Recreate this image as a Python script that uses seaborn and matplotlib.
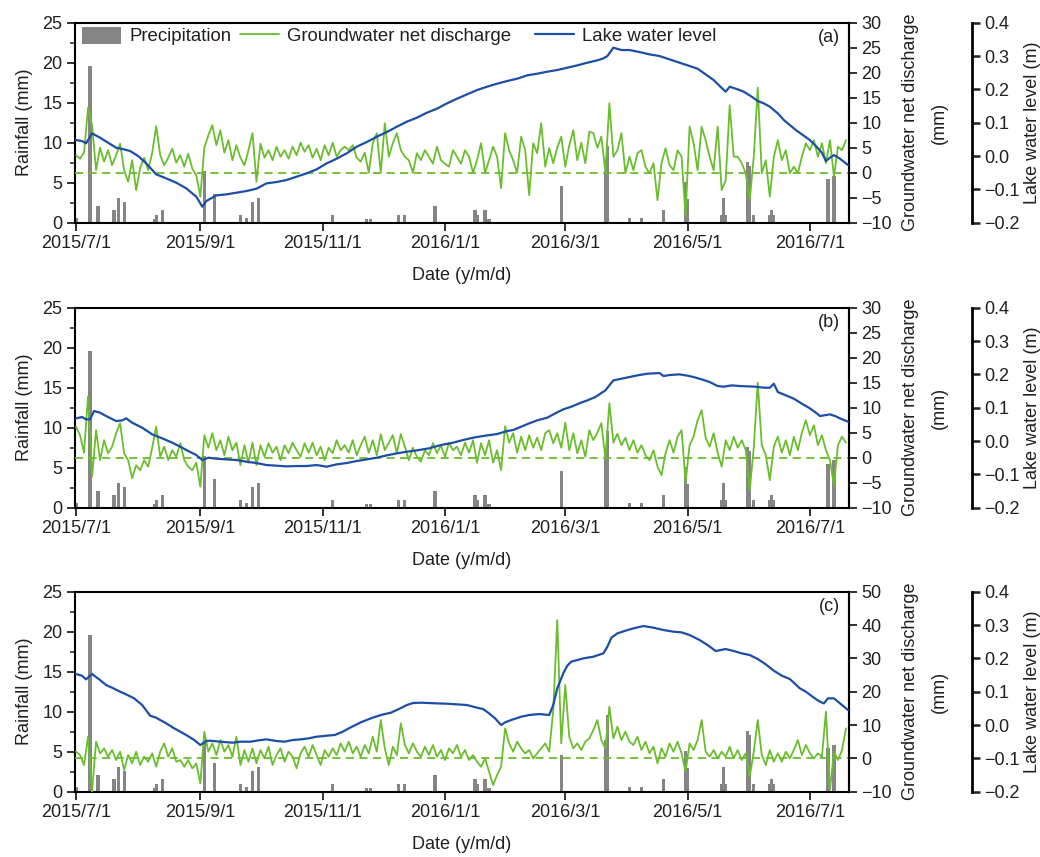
import numpy as np
import pandas as pd
import matplotlib
matplotlib.use("Agg")
import matplotlib.pyplot as plt
import matplotlib.dates as mdates
from matplotlib.ticker import MultipleLocator, AutoMinorLocator, FixedLocator, FuncFormatter
from matplotlib.patches import Patch
from matplotlib.lines import Line2D
from matplotlib.legend import Legend
import seaborn as sns

sns.set_theme(style="ticks")
plt.rcParams["font.family"] = ["Liberation Sans", "DejaVu Sans"]
TXT = "#231f20"
plt.rcParams.update({"text.color": TXT, "axes.labelcolor": TXT, "xtick.color": TXT,
                     "ytick.color": TXT, "axes.edgecolor": "black", "axes.unicode_minus": True})

GRAY = "#858585"
GREEN = "#6abd2d"
BLUE = "#1d4ea6"
FS = 13

# ---------------- data ----------------
rain_dates = ['2015-07-01', '2015-07-08', '2015-07-12', '2015-07-20', '2015-07-22', '2015-07-25',
              '2015-08-09', '2015-08-10', '2015-08-13', '2015-09-03', '2015-09-08', '2015-09-21',
              '2015-09-24', '2015-09-27', '2015-09-30', '2015-11-06', '2015-11-23', '2015-11-25',
              '2015-12-09', '2015-12-12', '2015-12-27', '2016-01-16', '2016-01-17', '2016-01-21',
              '2016-01-23', '2016-02-28', '2016-03-21', '2016-03-22', '2016-04-02', '2016-04-08',
              '2016-04-19', '2016-04-30', '2016-05-01', '2016-05-18', '2016-05-19', '2016-05-20',
              '2016-05-31', '2016-06-01', '2016-06-03', '2016-06-11', '2016-06-12', '2016-06-13',
              '2016-07-10', '2016-07-13']
rain_mm = [0.6, 19.6, 2.1, 1.6, 3.1, 2.6, 0.5, 1.0, 1.6, 6.5, 3.6, 1.0, 0.6, 2.6, 3.1, 1.0, 0.5, 0.5,
           1.0, 1.0, 2.1, 1.6, 1.0, 1.6, 0.5, 4.6, 6.5, 9.6, 0.6, 0.6, 1.6, 5.1, 3.0, 1.0, 3.1, 1.0,
           7.6, 7.1, 1.0, 1.0, 1.6, 1.0, 5.5, 5.9]

# groundwater net discharge (mm), one value every 2 days from 2015-07-01
gw_a = [3.5, 2.8, 4.0, 13.0, 9.5, 0.5, 5.0, 2.2, 4.5, 1.5,
        3.5, 5.8, 0.5, -1.8, 2.5, -3.5, 1.0, 3.0, 0.5, 4.0,
        9.3, 3.5, 1.5, 3.0, 4.8, 2.0, 3.5, 1.2, 3.8, 0.8,
        -0.5, -4.8, 5.0, 7.5, 9.5, 5.5, 8.5, 4.0, 6.5, 2.5,
        5.5, 3.0, 1.5, 4.5, 7.9, -1.8, 5.8, 3.0, 4.5, 2.5,
        5.2, 3.2, 4.5, 2.8, 5.2, 3.5, 6.0, 4.2, 5.5, 3.0,
        4.8, 2.5, 5.5, 3.5, 6.0, 3.2, 4.5, 5.2, 4.5, 5.5,
        3.0, 2.2, 4.0, 0.0, 5.9, 7.9, 0.0, 9.9, 3.2, 5.9,
        7.9, 4.5, 3.2, 2.5, 0.0, 3.9, 2.5, 4.5, 3.2, 1.8,
        5.2, 2.5, 1.8, 1.2, 4.5, 3.2, 1.8, 4.5, 3.2, 0.0,
        2.5, 5.9, 0.0, 2.5, 5.2, 3.2, -3.1, 7.9, 4.5, 2.5,
        0.0, 7.2, 4.5, -4.5, 5.9, 3.9, 9.9, 1.2, 4.9, 1.9,
        5.0, 7.2, 1.2, 5.5, 8.5, 2.5, 6.0, 1.9, 8.2, 7.9,
        5.0, 7.2, 0.2, 13.9, 3.2, 4.5, 7.9, -0.1, 3.2, 0.5,
        3.9, 4.5, 1.2, -0.1, 1.9, -5.5, 1.9, 4.9, 1.5, 0.5,
        4.5, 3.2, -8.8, 9.2, 5.9, 0.5, 9.2, 6.5, 3.2, 0.5,
        9.2, -3.5, -1.5, 13.5, 3.2, 3.2, 1.9, -0.1, -5.5, 3.2,
        17.0, -0.1, 2.5, -4.8, 3.2, 6.5, 2.5, 4.5, -0.1, 1.2,
        -0.1, 3.2, 5.9, 4.5, 6.5, 3.2, 5.9, 1.9, 6.5, -0.8,
        5.2, 4.5, 6.5]
gw_b = [6.2, 4.5, 1.0, 12.3, -3.8, 5.5, -0.5, 3.5, 0.9, 2.2,
        4.9, 6.9, 0.9, -0.5, -4.1, -1.5, -2.5, -0.5, -1.8, 2.0,
        6.2, 0.2, 2.2, -0.5, 1.5, 0.2, 2.9, -0.5, -1.8, -2.5,
        -1.0, -5.8, 4.5, 2.0, 4.9, 1.5, 3.5, 0.5, 4.2, 1.5,
        3.0, -1.5, 2.5, -1.0, 3.0, -1.5, 2.5, 0.2, 2.9, 1.0,
        2.2, -0.5, 2.5, 0.9, 3.0, 1.5, 0.2, 2.9, 1.0, 3.0,
        0.5, 2.2, -0.5, 2.0, 0.9, 3.5, 1.5, 2.5, 1.0, 3.5,
        0.5, 2.5, 4.2, 1.0, 3.5, 0.5, 4.7, 1.5, 3.0, 4.5,
        0.9, 4.7, 2.2, -0.5, 2.0, 0.2, -0.8, 1.5, 0.5, 2.9,
        0.9, 2.5, 0.2, 3.0, 1.5, 2.2, 0.5, 3.0, 1.0, 3.5,
        -1.0, 2.9, 0.5, 3.5, -1.0, 1.5, -2.5, 6.3, 3.0, 4.9,
        1.0, 4.2, 1.5, 4.5, 2.0, 4.0, 1.5, 4.9, 5.5, 2.9,
        4.9, 2.0, 7.0, 1.5, 4.9, 0.9, 3.5, 0.2, 5.5, 3.5,
        5.0, 6.9, -0.1, 10.9, 3.0, 4.8, 2.5, 4.0, 1.5, 3.5,
        1.0, 2.5, 0.5, -0.5, 1.5, -1.8, -3.5, 0.9, 3.5, 1.0,
        4.2, 5.5, -4.8, 2.5, 4.2, 7.5, 9.5, 4.0, 2.2, 4.9,
        1.0, -1.8, 3.5, 1.5, 4.2, 2.0, 3.5, 1.5, -6.5, 2.0,
        15.0, 2.5, 0.5, -4.5, 2.2, 4.2, 1.0, 3.5, 0.5, 4.2,
        1.5, 5.0, 7.5, 4.5, 6.5, 2.5, 4.5, 1.5, -0.5, -5.5,
        2.5, 4.2, 3.0]
gw_c = [2.0, 1.0, -2.0, 6.5, -10.0, 5.0, 1.5, 3.0, 0.5, 2.5,
        -0.5, 2.0, -3.5, 1.0, -1.5, 2.0, -2.0, 0.5, -1.0, 1.5,
        -2.5, 2.0, 4.5, 0.5, 3.0, -1.0, -0.5, -2.5, -0.5, -3.0,
        -1.5, -7.5, 8.0, 2.0, 4.5, 1.0, 5.5, 2.0, 4.0, 0.5,
        6.5, -2.0, 2.5, -1.0, 3.0, -1.5, 2.5, 0.0, 3.5, -2.0,
        1.0, 3.0, -1.0, 2.0, 0.5, -3.0, 1.5, 3.5, 0.5, 4.0,
        1.0, -2.0, 2.5, 0.5, 3.0, 1.0, 4.5, 2.0, 5.0, 1.5,
        3.5, 0.5, 4.0, 1.5, 6.5, 2.0, 11.5, 3.0, -2.0, 3.5,
        1.0, 10.5, 4.0, 1.5, 4.5, 2.0, 0.5, 3.5, 1.0, 4.0,
        0.5, 2.5, -0.5, 3.0, 1.5, 4.0, 0.5, 2.5, -0.5, 1.0,
        -1.0, -2.5, 0.0, -4.0, -8.0, -5.0, -2.5, 9.0, 4.5, 2.0,
        5.0, 3.0, 1.5, 2.5, 0.0, 1.5, 3.0, 4.5, 2.0, 14.5,
        41.5, 4.5, 22.0, 6.5, 3.0, 4.5, 2.5, 5.0, 6.0, 8.5,
        11.5, 5.5, 3.0, 15.5, 6.0, 9.5, 5.5, 8.0, 5.0, 4.0,
        6.5, 2.5, 5.0, 1.5, 3.5, -1.5, 3.0, 0.5, 4.5, 2.0,
        5.0, 1.5, -4.0, 4.5, 2.5, 5.5, 11.5, 2.0, 0.5, 2.5,
        0.0, 2.0, 0.5, 3.5, 0.0, 2.5, -0.5, 1.5, -5.5, 2.0,
        11.5, 1.0, -2.0, 2.5, -1.0, 1.5, -1.0, 2.0, 0.0, 2.5,
        5.5, 1.0, 4.0, 1.5, 0.0, 1.5, 0.5, 14.0, -9.5, 2.0,
        -0.5, 2.5, 9.0]

# lake water level (m): day number after 2015-07-01 and level
lake_a_day = [0, 3, 5, 8, 12, 16, 20, 24, 27, 31, 35, 40, 45, 50, 55, 60, 63, 65, 70, 75,
              80, 85, 90, 95, 100, 105, 110, 115, 120, 125, 130, 135, 140, 145, 150, 155, 160, 165, 170, 175,
              180, 185, 190, 195, 200, 205, 210, 215, 220, 225, 230, 235, 240, 245, 250, 255, 260, 263, 265, 268,
              272, 276, 281, 286, 291, 296, 301, 306, 310, 314, 318, 321, 324, 326, 330, 333, 337, 340, 343, 346,
              350, 353, 356, 359, 362, 366, 369, 372, 374, 376, 378, 381, 385]
lake_a = [0.048, 0.045, 0.038, 0.068, 0.055, 0.04, 0.025, 0.02, 0.015, 0.0,
          -0.022, -0.055, -0.067, -0.08, -0.097, -0.122, -0.152, -0.135, -0.118, -0.115,
          -0.11, -0.105, -0.098, -0.082, -0.078, -0.072, -0.062, -0.052, -0.04, -0.022,
          -0.008, 0.008, 0.028, 0.042, 0.058, 0.072, 0.088, 0.103, 0.115, 0.13,
          0.142, 0.158, 0.172, 0.185, 0.198, 0.208, 0.217, 0.225, 0.232, 0.242,
          0.247, 0.253, 0.258, 0.265, 0.272, 0.28, 0.287, 0.293, 0.30, 0.325,
          0.318, 0.318, 0.312, 0.305, 0.30, 0.29, 0.28, 0.27, 0.262, 0.245,
          0.228, 0.21, 0.193, 0.208, 0.2, 0.193, 0.178, 0.165, 0.158, 0.148,
          0.128, 0.108, 0.093, 0.078, 0.065, 0.048, 0.03, 0.01, -0.015, -0.005,
          0.003, -0.008, -0.027]
lake_b_day = [0, 3, 5, 7, 9, 12, 15, 20, 23, 25, 28, 33, 38, 43, 48, 52, 56, 60, 63, 66,
              70, 75, 80, 85, 90, 95, 100, 105, 110, 115, 120, 125, 130, 135, 140, 145, 150, 155, 160, 165,
              170, 176, 182, 188, 193, 198, 204, 210, 215, 218, 222, 226, 230, 235, 239, 243, 247, 251, 255, 259,
              264, 268, 272, 276, 280, 285, 291, 293, 296, 301, 305, 308, 312, 316, 320, 323, 327, 331, 335, 339,
              343, 346, 348, 350, 354, 358, 362, 366, 369, 371, 374, 376, 379, 381, 385]
lake_b = [0.068, 0.072, 0.065, 0.065, 0.09, 0.085, 0.075, 0.06, 0.062, 0.068,
          0.055, 0.04, 0.02, 0.008, -0.005, -0.017, -0.03, -0.042, -0.057, -0.05,
          -0.053, -0.055, -0.057, -0.062, -0.066, -0.072, -0.074, -0.076, -0.075, -0.075,
          -0.072, -0.077, -0.07, -0.066, -0.06, -0.055, -0.05, -0.043, -0.037, -0.032,
          -0.028, -0.022, -0.012, -0.005, 0.003, 0.01, 0.016, 0.021, 0.03, 0.033,
          0.043, 0.053, 0.062, 0.07, 0.083, 0.095, 0.103, 0.113, 0.122, 0.132,
          0.152, 0.182, 0.187, 0.192, 0.197, 0.202, 0.204, 0.195, 0.198, 0.2,
          0.196, 0.192, 0.185, 0.177, 0.165, 0.163, 0.167, 0.165, 0.164, 0.163,
          0.16, 0.16, 0.172, 0.147, 0.137, 0.127, 0.112, 0.098, 0.085, 0.075,
          0.078, 0.08, 0.074, 0.068, 0.058]
lake_c_day = [0, 3, 5, 8, 12, 15, 18, 22, 25, 29, 33, 37, 40, 42, 45, 49, 52, 55, 59, 62,
              65, 67, 72, 78, 82, 87, 91, 95, 100, 104, 108, 112, 116, 120, 125, 129, 133, 137, 142, 147,
              152, 157, 161, 165, 168, 172, 176, 180, 185, 190, 195, 200, 203, 206, 209, 212, 214, 217, 222, 226,
              231, 236, 238, 240, 242, 243, 245, 247, 250, 253, 258, 263, 265, 267, 270, 274, 278, 283, 288, 293,
              298, 302, 306, 311, 315, 319, 324, 328, 332, 336, 340, 344, 348, 352, 356, 361, 364, 368, 371, 373,
              375, 378, 381, 385]
lake_c = [0.153, 0.148, 0.137, 0.153, 0.135, 0.12, 0.112, 0.1, 0.092, 0.08,
          0.06, 0.028, 0.022, 0.015, 0.005, -0.01, -0.02, -0.03, -0.045, -0.06,
          -0.048, -0.047, -0.05, -0.053, -0.05, -0.05, -0.046, -0.043, -0.048, -0.05,
          -0.045, -0.043, -0.04, -0.035, -0.032, -0.03, -0.02, -0.007, 0.008, 0.02,
          0.03, 0.037, 0.048, 0.06, 0.066, 0.067, 0.066, 0.065, 0.064, 0.062,
          0.06, 0.052, 0.048, 0.035, 0.02, 0.0, 0.008, 0.015, 0.025, 0.03,
          0.033, 0.03, 0.06, 0.11, 0.14, 0.155, 0.178, 0.19, 0.195, 0.2,
          0.205, 0.215, 0.235, 0.262, 0.275, 0.283, 0.29, 0.297, 0.292, 0.285,
          0.28, 0.278, 0.27, 0.255, 0.24, 0.222, 0.228, 0.222, 0.215, 0.21,
          0.198, 0.182, 0.163, 0.148, 0.138, 0.11, 0.1, 0.082, 0.07, 0.065,
          0.08, 0.08, 0.065, 0.045]

tick_dates = ['2015-07-01', '2015-09-01', '2015-11-01', '2016-01-01', '2016-03-01', '2016-05-01', '2016-07-01']
panel_labels = ['(a)', '(b)', '(c)']
legend_labels = ['Precipitation', 'Groundwater net discharge', 'Lake water level']

# ---------------- figure ----------------
start = pd.Timestamp('2015-07-01')
rain_x = pd.to_datetime(rain_dates)
xmin = start - pd.Timedelta(hours=12)
xmax = start + pd.Timedelta(days=385.5)

fig = plt.figure(figsize=(10.4, 8.57), dpi=100)
W, H = 1040.0, 857.0
PX2PT = 72.0 / 100.0


def minus(s):
    return s.replace('-', '\u2212')


def panel(bottom_px, gw, gw_lim, gw_step, lake_day, lake, label, legend):
    rect = [75 / W, 1 - bottom_px / H, 774 / W, 200 / H]
    ax = fig.add_axes(rect)
    ax.bar(rain_x, rain_mm, width=1.6, color=GRAY, linewidth=0, zorder=2)
    ax.set_ylim(0, 25)
    ax.yaxis.set_major_locator(MultipleLocator(5))
    ax.yaxis.set_minor_locator(AutoMinorLocator(2))
    ax.set_ylabel('Rainfall (mm)', fontsize=FS, labelpad=7)

    gw_x = start + pd.to_timedelta(np.arange(len(gw)) * 2, unit='D')
    ax2 = ax.twinx()
    ax2.axhline(0, color=GREEN, lw=1.3, ls=(0, (4.5, 3)), zorder=1)
    sns.lineplot(x=gw_x, y=gw, ax=ax2, color=GREEN, lw=1.3, estimator=None, sort=False)
    ax2.set_ylim(*gw_lim)
    ax2.yaxis.set_major_locator(MultipleLocator(gw_step))
    ax2.yaxis.set_major_formatter(FuncFormatter(lambda v, p: minus(f"{v:.0f}")))
    ax2.set_ylabel('Groundwater net discharge\n(mm)', fontsize=FS, labelpad=7, linespacing=1.9)

    lake_x = start + pd.to_timedelta(np.array(lake_day), unit='D')
    ax3 = ax.twinx()
    sns.lineplot(x=lake_x, y=lake, ax=ax3, color=BLUE, lw=1.6, estimator=None, sort=False)
    ax3.set_ylim(-0.2, 0.4)
    ax3.yaxis.set_major_locator(MultipleLocator(0.1))
    ax3.yaxis.set_major_formatter(FuncFormatter(
        lambda v, p: minus(f"{0.0 if abs(v) < 1e-9 else v:.1f}")))
    ax3.spines['right'].set_position(('outward', 123 * PX2PT))
    ax3.spines['right'].set_linewidth(2.0)
    ax3.set_ylabel('Lake water level (m)', fontsize=FS, labelpad=3)
    for a in (ax2, ax3):
        for s in ('left', 'top', 'bottom'):
            a.spines[s].set_visible(False)

    for a in (ax, ax2, ax3):
        a.set_xlim(xmin, xmax)
        a.tick_params(axis='y', which='major', direction='out', length=6, width=1.3,
                      labelsize=FS, pad=3)
        a.tick_params(axis='y', which='minor', direction='out', length=3.5, width=1.1)
    ax3.tick_params(axis='y', which='major', width=1.8)
    for s in ('left', 'top', 'bottom', 'right'):
        ax.spines[s].set_linewidth(1.5)
    ax2.spines['right'].set_linewidth(1.5)

    ax.xaxis.set_major_locator(FixedLocator(mdates.date2num(pd.to_datetime(tick_dates))))
    ax.xaxis.set_major_formatter(FuncFormatter(
        lambda v, p: f"{mdates.num2date(v).year}/{mdates.num2date(v).month}/{mdates.num2date(v).day}"))
    ax.tick_params(axis='x', which='major', direction='out', length=6, width=1.3, labelsize=FS, pad=3)
    ax.tick_params(axis='x', which='minor', length=0)
    ax.set_xlabel('Date (y/m/d)', fontsize=FS, labelpad=11)
    for a in (ax2, ax3):
        a.set_xlabel('')
        a.tick_params(axis='x', length=0, labelbottom=False)

    ax3.text(0.988, 0.925, label, transform=ax.transAxes, ha='right', va='center', fontsize=FS)

    if legend:
        handles = [Patch(facecolor=GRAY, edgecolor='none'),
                   Line2D([], [], color=GREEN, lw=1.3),
                   Line2D([], [], color=BLUE, lw=1.6)]
        anchors_px = [82, 240, 535]
        for h, lab, xp in zip(handles, legend_labels, anchors_px):
            lg = Legend(ax3, [h], [lab], loc='upper left',
                        bbox_to_anchor=((xp - 75) / 774.0, 1 - (26.5 - 22.7) / 200.0),
                        frameon=False, fontsize=13.4, handlelength=2.1, handleheight=1.05,
                        handletextpad=0.45, borderaxespad=0, borderpad=0)
            ax3.add_artist(lg)
    return ax


panel(222.7, gw_a, (-10, 30), 5, lake_a_day, lake_a, panel_labels[0], True)
panel(507.7, gw_b, (-10, 30), 5, lake_b_day, lake_b, panel_labels[1], False)
panel(791.7, gw_c, (-10, 50), 10, lake_c_day, lake_c, panel_labels[2], False)

fig.savefig('out.png', dpi=100)
